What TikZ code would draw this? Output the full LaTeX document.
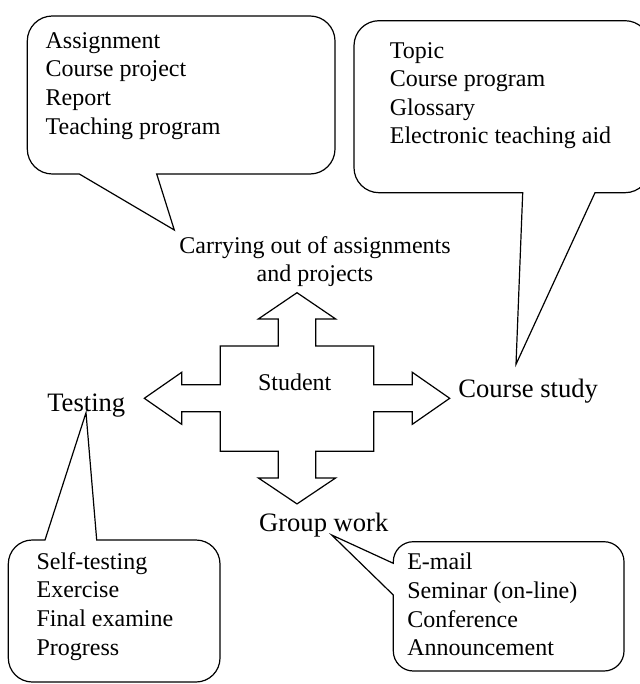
\documentclass[tikz,border=0pt]{standalone}
\usepackage{fontspec}
\setmainfont{Liberation Serif}
\begin{document}
\begin{tikzpicture}[x=0.5pt, y=-0.5pt, line width=0.6pt,
    item/.style={anchor=base west, inner sep=0pt, align=left, font=\fontsize{12}{14.33}\selectfont},
    area/.style={anchor=base west, inner sep=0pt, font=\fontsize{13.3}{16}\selectfont}]
  \useasboundingbox (0,0) rectangle (640,684);

  \node (assign-list) [item] at (45,134.3) {Assignment\\Course project\\Report\\Teaching program};
  \node (study-list) [item] at (389.3,144) {Topic\\Course program\\Glossary\\Electronic teaching aid};
  \node (test-list) [item] at (36,655) {Self-testing\\Exercise\\Final examine\\Progress};
  \node (group-list) [item] at (406.7,655.7) {E-mail\\Seminar (on-line)\\Conference\\Announcement};

  \node (carrying) [anchor=base, inner sep=0pt, align=center, font=\fontsize{12}{14.2}\selectfont] at (315,281.7) {Carrying out of assignments\\and projects};
  \node (student) [anchor=base, inner sep=0pt, font=\fontsize{12}{14}\selectfont] at (294.7,390) {Student};
  \node (testing) [area] at (46.7,411) {Testing};
  \node (course-study) [area] at (457.7,397.3) {Course study};
  \node (group-work) [area] at (258.5,531.7) {Group work};

  \coordinate (carrying-tip) at (174.3,230);
  \coordinate (study-tip) at (516,364.3);
  \coordinate (testing-tip) at (86,412.7);
  \coordinate (group-tip) at (331.7,535);
  \coordinate (cross-center) at (297,398.3);

  \draw (carrying-tip) -- (156.7,174) [rounded corners=12.5pt] -- (335,174) -- (335,16) -- (27.3,16) -- (27.3,174) [sharp corners] -- (79.3,174) -- cycle;
  \draw (study-tip) -- (595,192.7) [rounded corners=12.5pt] -- (650,192.7) -- (650,20.7) -- (354,20.7) -- (354,192.7) [sharp corners] -- (522.7,192.7) -- cycle;
  \draw (testing-tip) -- (96.7,540) [rounded corners=12pt] -- (220,540) -- (220,682) -- (8.3,682) -- (8.3,540) [sharp corners] -- (45,540) -- cycle;
  \draw (group-tip) -- (393.3,595) [rounded corners=10pt] -- (393.3,671) -- (624,671) -- (624,541.7) -- (393.3,541.7) [sharp corners] -- (393.3,563.3) -- cycle;

  \draw[shift={(cross-center)}] (0,-105.6) -- (38.7,-79.3) -- (18.7,-79.3) -- (18.7,-52.3) -- (76.7,-52.3) -- (76.7,-13.5) -- (115.3,-13.5) -- (115.3,-26) -- (152.7,0) -- (115.3,26) -- (115.3,13.5) -- (76.7,13.5) -- (76.7,53) -- (18.7,53) -- (18.7,79.6) -- (38.7,79.6) -- (0,105.6) -- (-38.7,79.6) -- (-18.7,79.6) -- (-18.7,53) -- (-76.7,53) -- (-76.7,13.5) -- (-115.3,13.5) -- (-115.3,26) -- (-152.7,0) -- (-115.3,-26) -- (-115.3,-13.5) -- (-76.7,-13.5) -- (-76.7,-52.3) -- (-18.7,-52.3) -- (-18.7,-79.3) -- (-38.7,-79.3) -- cycle;
\end{tikzpicture}
\end{document}
